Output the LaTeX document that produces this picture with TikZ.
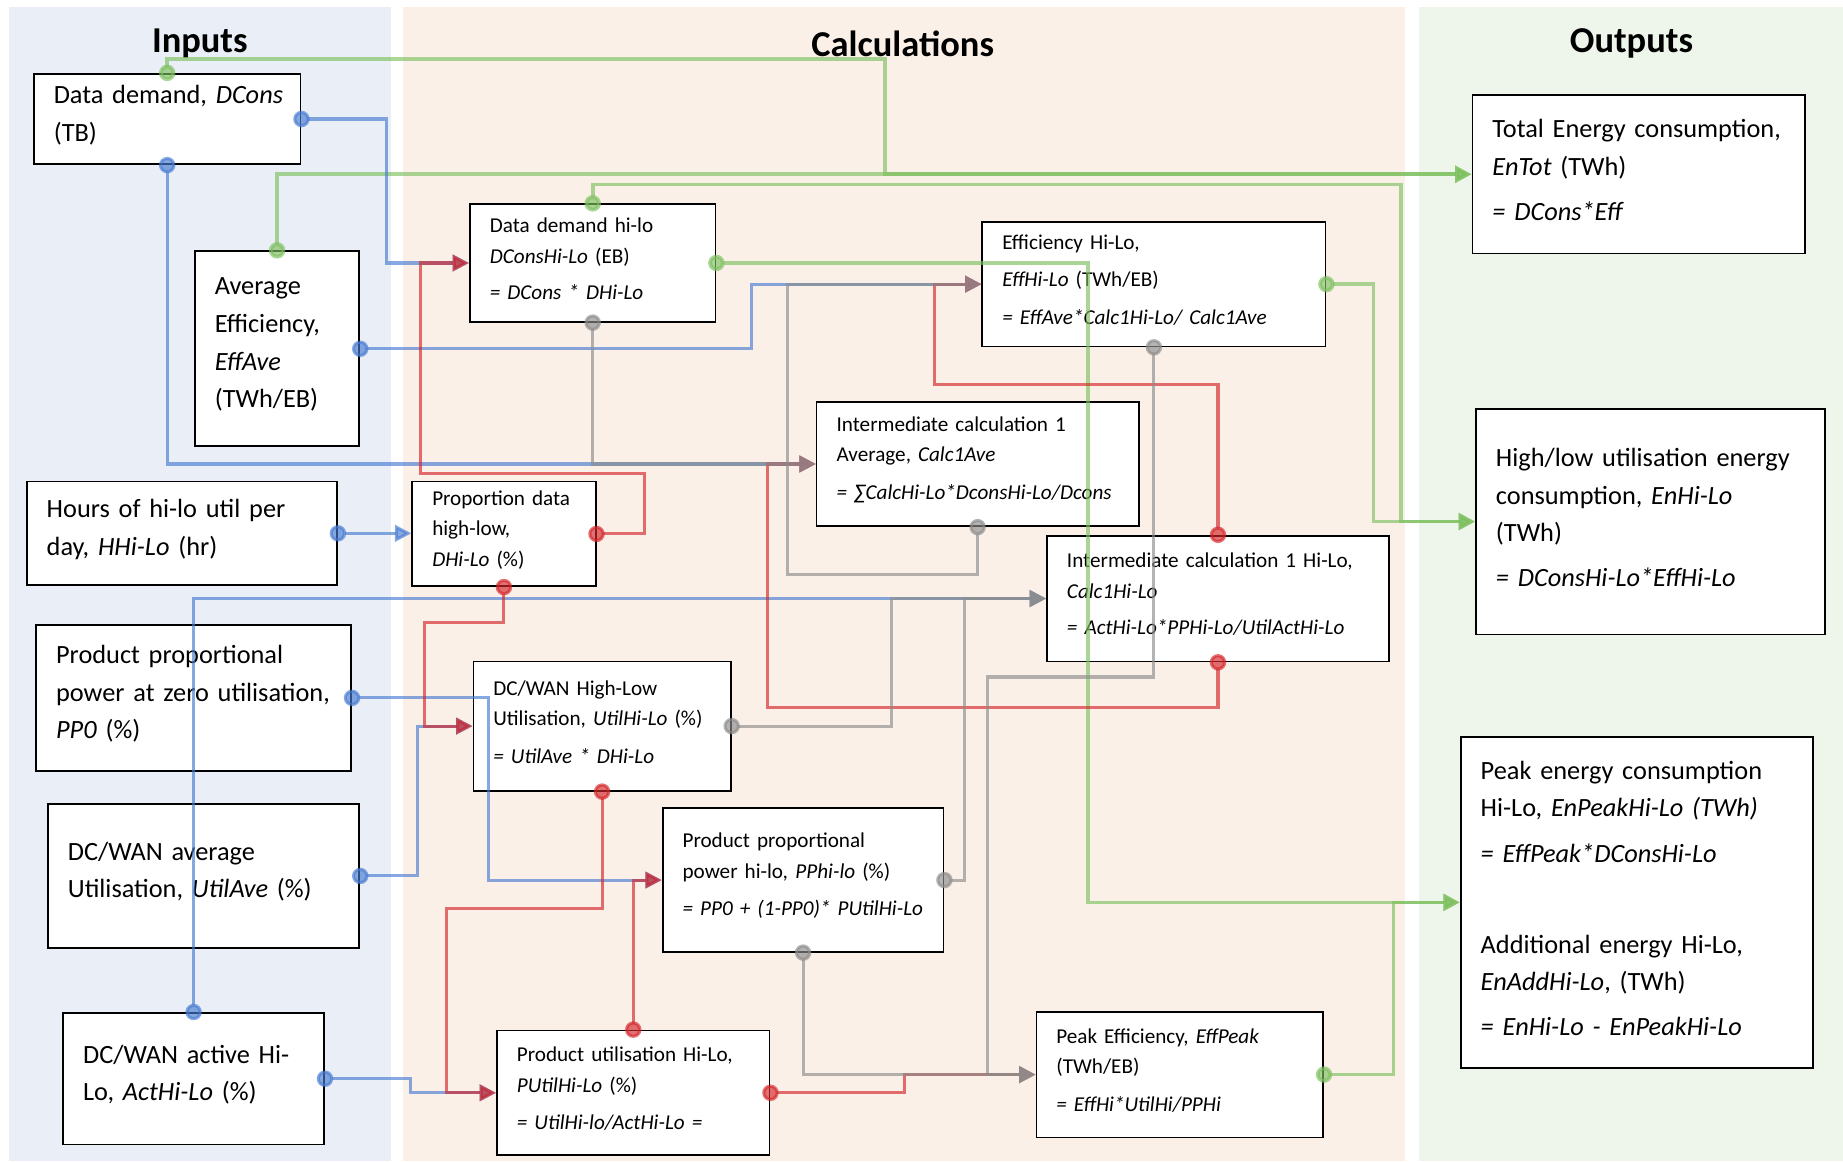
\documentclass[tikz,border=0pt]{standalone}
\usepackage{fontspec}
\setmainfont{Carlito}
\usetikzlibrary{arrows.meta}

\definecolor{inbg}{RGB}{233,238,247}
\definecolor{calcbg}{RGB}{251,240,232}
\definecolor{outbg}{RGB}{238,245,234}
\definecolor{gcol}{RGB}{125,192,94}
\definecolor{bcol}{RGB}{70,122,210}
\definecolor{rcol}{RGB}{212,36,40}
\definecolor{kcol}{RGB}{140,140,140}

\begin{document}
\begin{tikzpicture}[x=0.5pt, y=-0.5pt,
  box/.style={draw=black, fill=white, line width=0.75pt, anchor=north west, align=left,
    inner xsep=0pt, inner ysep=0pt, execute at begin node={\leftskip=8.5pt\relax},
    execute at end node={\endgraf\vspace*{3.5pt}}},
  inbox/.style={box, font=\fontsize{11.2}{16}\selectfont},
  calcbox/.style={box, font=\fontsize{9}{13}\selectfont},
  outbox/.style={box, font=\fontsize{11.2}{16}\selectfont},
  title/.style={font=\fontsize{15.5}{18}\selectfont\bfseries},
  link/.style={line width=1.3pt, opacity=0.65, shorten <=-3.5pt,
    {Circle[length=7pt]}-{Triangle[length=7pt,width=7pt]}},
  gline/.style={link, gcol, line width=1.6pt},
  bline/.style={link, bcol},
  rline/.style={link, rcol},
  kline/.style={link, kcol}]
\useasboundingbox (0,0) rectangle (1568,988);

\fill[inbg] (8,6) rectangle (333,988);
\fill[calcbg] (343,6) rectangle (1195,988);
\fill[outbg] (1207,6) rectangle (1568,988);
\node[title] (tin) at (170,37) {Inputs};
\node[title] (tcalc) at (768,37) {Calculations};
\node[title] (tout) at (1388,37) {Outputs};

\node[inbox, text width=113.5pt, minimum height=38.5pt] (dcons) at (28,62) {Data demand, \textit{DCons}\\(TB)};
\node[inbox, text width=70pt, minimum height=83pt] (effave) at (165,213) {Average\\Efficiency,\\\textit{EffAve}\\(TWh/EB)};
\node[inbox, text width=132pt, minimum height=44pt] (hhl) at (22,409) {Hours of hi-lo util per\\day, \textit{HHi-Lo} (hr)};
\node[inbox, text width=134pt, minimum height=62pt] (pp0) at (30,531) {Product proportional\\power at zero utilisation,\\\textit{PP0} (\%)};
\node[inbox, text width=132.5pt, minimum height=61.5pt] (utilave) at (40,683) {DC/WAN average\\Utilisation, \textit{UtilAve} (\%)};
\node[inbox, text width=111pt, minimum height=56pt] (acthl) at (53,861) {DC/WAN active Hi-\\Lo, \textit{ActHi-Lo} (\%)};

\node[calcbox, text width=104.5pt, minimum height=50pt] (dhl) at (399,173) {Data demand hi-lo\\\textit{DConsHi-Lo} (EB)\\[2.5pt]\textit{= DCons * DHi-Lo}};
\node[calcbox, text width=146pt, minimum height=53pt] (effhl) at (835,188) {Efficiency Hi-Lo,\\[3pt]\textit{EffHi-Lo} (TWh/EB)\\[3pt]\textit{= EffAve*Calc1Hi-Lo/ Calc1Ave}};
\node[calcbox, text width=137pt, minimum height=53pt] (c1ave) at (694,341) {Intermediate calculation 1\\Average, \textit{Calc1Ave}\\[3pt]\textit{= ∑CalcHi-Lo*DconsHi-Lo/Dcons}};
\node[calcbox, text width=78pt, minimum height=44.5pt] (dhilo) at (350,409) {Proportion data\\high-low,\\\textit{DHi-Lo} (\%)};
\node[calcbox, text width=145.5pt, minimum height=53.5pt] (c1hl) at (890,455) {Intermediate calculation 1 Hi-Lo,\\\textit{Calc1Hi-Lo}\\[2.5pt]\textit{= ActHi-Lo*PPHi-Lo/UtilActHi-Lo}};
\node[calcbox, text width=109.5pt, minimum height=55pt] (utilhl) at (402,562) {DC/WAN High-Low\\Utilisation, \textit{UtilHi-Lo} (\%)\\[3pt]\textit{= UtilAve * DHi-Lo}};
\node[calcbox, text width=119.5pt, minimum height=61pt] (pphl) at (563,687) {Product proportional\\power hi-lo\textit{, PPhi-lo} (\%)\\[3pt]\textit{= PP0 + (1-PP0)* PUtilHi-Lo}};
\node[calcbox, text width=116pt, minimum height=53pt] (puthl) at (422,876) {Product utilisation Hi-Lo,\\\textit{PUtilHi-Lo} (\%)\\[3pt]\textit{= UtilHi-lo/ActHi-Lo =}};
\node[calcbox, text width=122pt, minimum height=53.5pt] (effpk) at (881,860) {Peak Efficiency, \textit{EffPeak}\\(TWh/EB)\\[3pt]\textit{= EffHi*UtilHi/PPHi}};

\node[outbox, text width=141.5pt, minimum height=67.5pt] (entot) at (1252,80) {Total Energy consumption,\\\textit{EnTot} (TWh)\\[3.5pt]\textit{= DCons*Eff}};
\node[outbox, text width=148.5pt, minimum height=96pt] (enhl) at (1255,347) {High/low utilisation energy\\consumption, \textit{EnHi-Lo}\\(TWh)\\[3pt]\textit{= DConsHi-Lo*EffHi-Lo}};
\node[outbox, text width=150pt, minimum height=141pt] (enpk) at (1242,626) {Peak energy consumption\\Hi-Lo, \textit{EnPeakHi-Lo (TWh)}\\[3.5pt]\textit{= EffPeak*DConsHi-Lo}\\[22.5pt]Additional energy Hi-Lo,\\\textit{EnAddHi-Lo}, (TWh)\\[3pt]\textit{= EnHi-Lo - EnPeakHi-Lo}};

\draw[gline] (dcons.north) |- (753,50) |- (entot.west);
\draw[gline] (effave.north) |- (entot.west);
\draw[gline] (dhl.north) |- (1192,157) |- (enhl.west);
\draw[gline] (effhl.east) -- ++(40,0) |- (enhl.west);
\draw[gline] (dhl.east) -- ++(316,0) |- (enpk.west);
\draw[gline] (effpk.east) -- ++(59,0) |- (enpk.west);

\draw[bline] (dcons.east) -- ++(72,0) |- (dhl.west);
\draw[bline] (dcons.south) |- (c1ave.west);
\draw[bline] (effave.east) -- ++(333,0) |- (effhl.west);
\draw[bline] (hhl.east) -- (hhl.east -| dhilo.west);
\draw[bline] (pp0.east) -- ++(116,0) |- (pphl.west);
\draw[bline] (utilave.east) -- ++(49,0) |- (utilhl.west);
\draw[bline] (acthl.north) |- (c1hl.west);
\draw[bline] (acthl.east) -- ++(73,0) |- (puthl.west);

\draw[rline] (dhilo.east) -- ++(41,0) |- (358,403) |- (dhl.west);
\draw[rline] (dhilo.south) |- (361,530) |- (utilhl.west);
\draw[rline] (utilhl.south) |- (380,773) |- (puthl.west);
\draw[rline] (puthl.north) |- (pphl.west);
\draw[rline] (puthl.east) -- ++(114,0) |- (effpk.west);
\draw[rline] (c1hl.north) |- (795,327) |- (effhl.west);
\draw[rline] (c1hl.south) |- (653,602) |- (c1ave.west);

\draw[kline] (dhl.south) |- (c1ave.west);
\draw[kline] (c1ave.south) |- (670,489) |- (effhl.west);
\draw[kline] (effhl.south) |- (840,576) |- (effpk.west);
\draw[kline] (utilhl.east) -- ++(136,0) |- (c1hl.west);
\draw[kline] (pphl.east) -- ++(17,0) |- (c1hl.west);
\draw[kline] (pphl.south) |- (effpk.west);
\end{tikzpicture}
\end{document}
